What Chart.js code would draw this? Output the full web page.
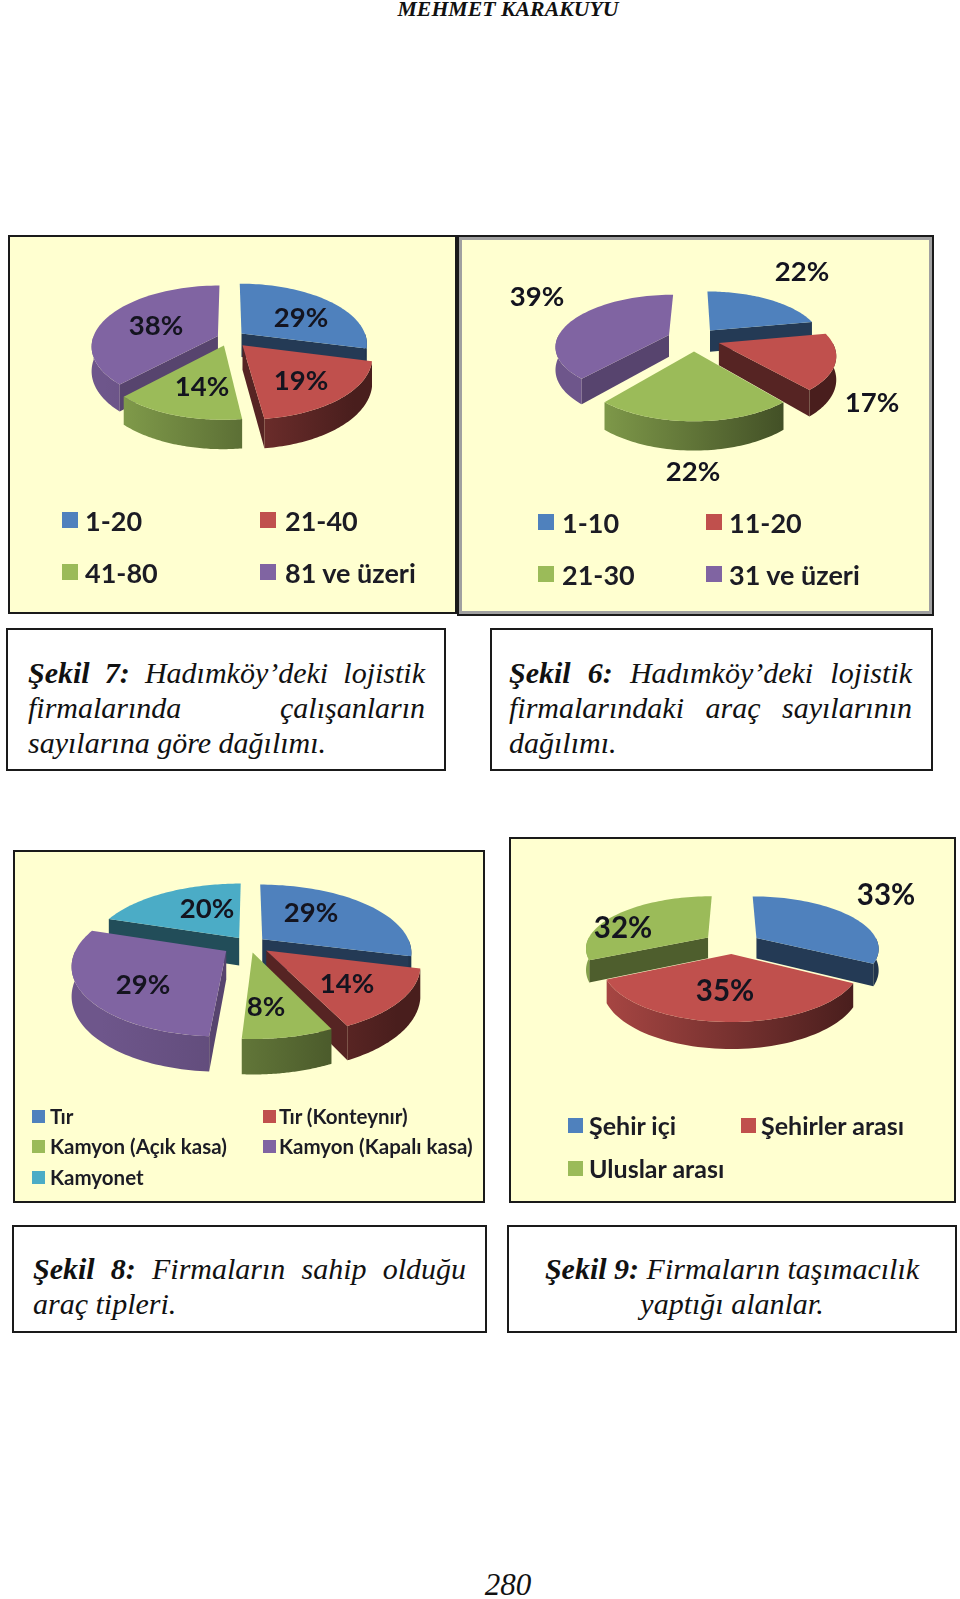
<!DOCTYPE html>
<html lang="tr">
<head>
<meta charset="utf-8">
<script src="https://cdn.jsdelivr.net/npm/chart.js@4"></script>
<style>
  html, body { margin: 0; padding: 0; background: #fff; }
  body { position: relative; width: 960px; height: 1599px; overflow: hidden; }
  .panel { position: absolute; box-sizing: border-box; background: #ffffd0; border: 2px solid #1a1a1a; }
  .panel canvas { position: absolute; left: 0; top: 0; filter: blur(0.4px); }
  .swatch { position: absolute; }
  .legend { position: absolute; font-family: Lato, sans-serif; font-weight: 700; color: #1c1c24; white-space: nowrap; transform: translateY(-50%); filter: blur(0.3px); }
  .box { position: absolute; box-sizing: border-box; background: #fff; border: 2px solid #1a1a1a; }
  .line { position: absolute; font-family: "Liberation Serif", serif; font-style: italic; font-size: 30px; line-height: 35px; color: #111; white-space: nowrap; }
  .just { text-align: justify; text-align-last: justify; white-space: normal; }
  .head { position: absolute; font-family: "Liberation Serif", serif; font-style: italic; font-weight: 700; color: #111; }
</style>
</head>
<body>
<script>
// firma calisan sayisi
let sekil7Labels = ['1-20', '21-40', '41-80', '81 ve üzeri']
let sekil7Values = [29, 19, 14, 38]
let sekil7Explode = [16, 20, 16, 12]

// arac sayisi
let sekil6Labels = ['1-10', '11-20', '21-30', '31 ve üzeri']
let sekil6Values = [22, 17, 22, 39]
let sekil6Explode = [26, 26, 27, 27]

// arac tipleri
let sekil8Labels = ['Tır', 'Tır (Konteynır)', 'Kamyon (Açık kasa)', 'Kamyon (Kapalı kasa)', 'Kamyonet']
let sekil8Values = [29, 14, 8, 29, 20]
let sekil8Explode = [17, 22, 19, 27, 17]

// tasimacilik alanlari
let sekil9Labels = ['Şehir içi', 'Şehirler arası', 'Uluslar arası']
let sekil9Values = [33, 35, 32]
let sekil9Explode = [29, 23, 29]

let officeColors = ['#4f81bd', '#c0504d', '#9bbb59', '#8064a2', '#4bacc6']
// yan yuz koyulugu, renk sirasiyla
let cutShade = [0.45, 0.45, 0.5, 0.68, 0.45]
let wallDark = [0.4, 0.38, 0.38, 0.62, 0.4]

function shade(hex, m) {
  let n = parseInt(hex.slice(1), 16)
  return 'rgb(' + [(n >> 16) & 255, (n >> 8) & 255, n & 255].map(c => Math.round(c * m)).join(',') + ')'
}

// pie is drawn tilted: angles + radius come from chart.js arc elements, only the projection is ours
function pie3d(conf) {
  return {
    id: 'pie3d',
    beforeDatasetsDraw(chart) {
      let ctx = chart.ctx
      let arcs = chart.getDatasetMeta(0).data
      let cx = arcs[0].x, cy = arcs[0].y, R = arcs[0].outerRadius
      let s = conf.tilt, k = conf.persp, depth = conf.depth

      function proj(x, y, down) {
        let f = 1 / (1 - k * y / R)
        return [cx + x * f, cy + s * y * f + (down ? depth * f : 0)]
      }

      let order = arcs.map((el, i) => i).sort((a, b) => {
        let ma = (arcs[a].startAngle + arcs[a].endAngle) / 2
        let mb = (arcs[b].startAngle + arcs[b].endAngle) / 2
        return Math.sin(ma) - Math.sin(mb)
      })

      order.forEach(i => {
        let el = arcs[i]
        let a0 = el.startAngle, a1 = el.endAngle, mid = (a0 + a1) / 2
        let off = el.options.offset || 0
        let ox = Math.cos(mid) * off, oy = Math.sin(mid) * off
        let col = officeColors[i]
        let rim = (a, down) => proj(ox + Math.cos(a) * R, oy + Math.sin(a) * R, down)
        let apex = down => proj(ox, oy, down)

        function poly(pts, fill) {
          ctx.beginPath()
          pts.forEach((p, n) => n ? ctx.lineTo(p[0], p[1]) : ctx.moveTo(p[0], p[1]))
          ctx.closePath()
          ctx.fillStyle = fill
          ctx.fill()
        }
        function sweep(from, to, down) {
          let pts = []
          for (let n = 0; n <= 60; n++) pts.push(rim(from + (to - from) * n / 60, down))
          return pts
        }

        // kesit yuzleri, sadece one bakanlar
        if (-Math.cos(a0) > 0) poly([apex(false), rim(a0, false), rim(a0, true), apex(true)], shade(col, cutShade[i]))
        if (Math.cos(a1) > 0) poly([apex(false), rim(a1, false), rim(a1, true), apex(true)], shade(col, cutShade[i]))

        // dis duvar
        let w0 = Math.max(a0, 0), w1 = Math.min(a1, Math.PI)
        if (w1 > w0) {
          let g = ctx.createLinearGradient(cx - R, 0, cx + R, 0)
          g.addColorStop(0, shade(col, 0.86))
          g.addColorStop(1, shade(col, wallDark[i]))
          poly(sweep(w0, w1, false).concat(sweep(w1, w0, true)), g)
        }

        // ust yuz
        poly([apex(false)].concat(sweep(a0, a1, false)), col)
      })

      ctx.font = 'bold ' + conf.labelSize + 'px Lato'
      ctx.textAlign = 'center'
      ctx.textBaseline = 'middle'
      ctx.fillStyle = '#14141f'
      chart.data.datasets[0].data.forEach((v, i) => {
        ctx.fillText(v + '%', cx + conf.labelOffset[i][0], cy + conf.labelOffset[i][1])
      })
      return false
    }
  }
}

function addPie(p) {
  let b = p.border
  let div = document.createElement('div')
  div.className = 'panel'
  div.style.cssText = `left:${p.x}px;top:${p.y}px;width:${p.w}px;height:${p.h}px;border-width:${b}px;${p.extra || ''}`
  let cv = document.createElement('canvas')
  let w = p.w - 2 * b, h = p.h - 2 * b
  cv.width = w
  cv.height = h
  cv.style.width = w + 'px'
  cv.style.height = h + 'px'
  div.appendChild(cv)
  document.body.appendChild(div)

  let lx = p.cx - p.x - b, ly = p.cy - p.y - b
  new Chart(cv, {
    type: 'pie',
    data: {
      labels: p.labels,
      datasets: [{ data: p.values, offset: p.explode, backgroundColor: officeColors.slice(0, p.values.length), borderWidth: 0 }]
    },
    options: {
      responsive: false,
      animation: false,
      radius: p.radius,
      layout: {
        padding: {
          left: Math.max(0, 2 * lx - w), right: Math.max(0, w - 2 * lx),
          top: Math.max(0, 2 * ly - h), bottom: Math.max(0, h - 2 * ly)
        }
      },
      plugins: { legend: { display: false }, tooltip: { enabled: false } }
    },
    plugins: [pie3d(p)]
  })

  // legend grid
  p.labels.forEach((t, i) => {
    let col = p.legendX[i % 2], y = p.legendY[Math.floor(i / 2)]
    let sw = document.createElement('div')
    sw.className = 'swatch'
    sw.style.cssText = `left:${col[0]}px;top:${y - p.swatch / 2}px;width:${p.swatch}px;height:${p.swatch}px;background:${officeColors[i]}`
    document.body.appendChild(sw)
    let tx = document.createElement('div')
    tx.className = 'legend'
    tx.textContent = t
    tx.style.cssText = `left:${col[1]}px;top:${y}px;font-size:${p.legendSize}px`
    document.body.appendChild(tx)
  })
}

addPie({
  x: 8, y: 235, w: 449, h: 379, border: 2, cx: 229, cy: 338, radius: 125, tilt: 0.475, persp: 0.165, depth: 24,
  labels: sekil7Labels, values: sekil7Values, explode: sekil7Explode,
  labelSize: 27.5, labelOffset: [[72, -20], [72, 43], [-27, 49], [-73, -12]],
  legendX: [[62, 85], [260, 285]], legendY: [520, 572], swatch: 16, legendSize: 27
})
addPie({
  x: 457, y: 235, w: 477, h: 381, border: 2, cx: 694, cy: 339, radius: 112, tilt: 0.445, persp: 0.2, depth: 22,
  labels: sekil6Labels, values: sekil6Values, explode: sekil6Explode,
  labelSize: 27.5, labelOffset: [[108, -67], [178, 64], [-1, 133], [-157, -42]],
  legendX: [[538, 562], [706, 729]], legendY: [522, 574], swatch: 16, legendSize: 27,
  extra: 'box-shadow: inset 0 0 0 3px #a0a0a0;'
})
addPie({
  x: 13, y: 850, w: 472, h: 353, border: 2, cx: 249, cy: 944, radius: 148, tilt: 0.45, persp: 0.187, depth: 28,
  labels: sekil8Labels, values: sekil8Values, explode: sekil8Explode,
  labelSize: 27.5, labelOffset: [[62, -31], [98, 40], [17, 63], [-106, 41], [-42, -35]],
  legendX: [[32, 50], [263, 279]], legendY: [1116, 1146, 1177], swatch: 13, legendSize: 20.5
})
addPie({
  x: 509, y: 837, w: 447, h: 366, border: 2, cx: 732, cy: 944, radius: 122, tilt: 0.42, persp: 0.185, depth: 21,
  labels: sekil9Labels, values: sekil9Values, explode: sekil9Explode,
  labelSize: 29.5, labelOffset: [[154, -49], [-7, 47], [-109, -16]],
  legendX: [[568, 589], [741, 761]], legendY: [1125, 1168], swatch: 15, legendSize: 25
})

// sayfa yazilari
function addBox(x, y, w, h) {
  let d = document.createElement('div')
  d.className = 'box'
  d.style.cssText = `left:${x}px;top:${y}px;width:${w}px;height:${h}px`
  document.body.appendChild(d)
}
function addLine(html, x, y, w, mode) {
  let d = document.createElement('div')
  d.className = 'line' + (mode == 'just' ? ' just' : '')
  d.innerHTML = html
  d.style.cssText = `left:${x}px;top:${y}px;width:${w}px;` + (mode == 'center' ? 'text-align:center;' : '')
  document.body.appendChild(d)
}

addBox(6, 628, 440, 143)
addLine('<b>Şekil 7:</b> Hadımköy’deki lojistik', 28, 655, 397, 'just')
addLine('firmalarında çalışanların', 28, 690, 397, 'just')
addLine('sayılarına göre dağılımı.', 28, 725, 397)

addBox(490, 628, 443, 143)
addLine('<b>Şekil 6:</b> Hadımköy’deki lojistik', 509, 655, 403, 'just')
addLine('firmalarındaki araç sayılarının', 509, 690, 403, 'just')
addLine('dağılımı.', 509, 725, 403)

addBox(12, 1225, 475, 108)
addLine('<b>Şekil 8:</b> Firmaların sahip olduğu', 33, 1251, 433, 'just')
addLine('araç tipleri.', 33, 1286, 433)

addBox(507, 1225, 450, 108)
addLine('<b>Şekil 9:</b> Firmaların taşımacılık', 507, 1251, 450, 'center')
addLine('yaptığı alanlar.', 507, 1286, 450, 'center')

let top1 = document.createElement('div')
top1.className = 'head'
top1.textContent = 'MEHMET KARAKUYU'
top1.style.cssText = 'left:0;width:1016px;text-align:center;top:-3px;font-size:21.8px'
document.body.appendChild(top1)

let pageNo = document.createElement('div')
pageNo.className = 'head'
pageNo.textContent = '280'
pageNo.style.cssText = 'left:0;width:1016px;text-align:center;top:1567px;font-size:31px;font-weight:400'
document.body.appendChild(pageNo)
</script>
</body>
</html>
